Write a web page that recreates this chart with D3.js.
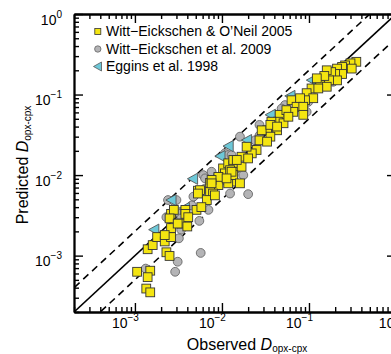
<!DOCTYPE html>
<html>
<head>
<meta charset="utf-8">
<script src="https://cdn.jsdelivr.net/npm/d3@7"></script>
<style>
  body { margin: 0; background: #fff; }
  svg { display: block; font-family: "Liberation Sans", Arial, Helvetica, sans-serif; }
</style>
</head>
<body>
<svg id="chart" width="391" height="354"></svg>
<script>
// series: [observed, predicted]
const wittOneil2005 = [
  [0.00106, 0.00063], [0.0015, 0.00065], [0.0014, 0.00054], [0.00135, 0.00039], [0.0015, 0.00035],
  [0.0014, 0.0012], [0.0016, 0.00135], [0.0018, 0.0017], [0.0022, 0.0015], [0.0026, 0.0017],
  [0.0023, 0.0011], [0.0025, 0.00099], [0.0026, 0.0033], [0.0028, 0.0037], [0.0034, 0.0025],
  [0.0025, 0.0029], [0.0040, 0.0023], [0.0051, 0.0037], [0.0053, 0.0064], [0.0038, 0.0037],
  [0.0103, 0.0121], [0.0118, 0.014], [0.0135, 0.0133], [0.0135, 0.011], [0.0108, 0.0105],
  [0.0135, 0.0083], [0.0118, 0.0079], [0.0091, 0.0091], [0.0073, 0.0080], [0.0091, 0.0075],
  [0.0073, 0.0062], [0.0056, 0.0065], [0.0053, 0.0059], [0.0079, 0.0059], [0.0067, 0.0049],
  [0.0038, 0.0033], [0.0041, 0.0030], [0.0026, 0.0022], [0.0031, 0.0025], [0.0022, 0.0018],
  [0.063, 0.085], [0.055, 0.056], [0.046, 0.056], [0.044, 0.046], [0.051, 0.044],
  [0.037, 0.046], [0.033, 0.036], [0.043, 0.036], [0.036, 0.030], [0.027, 0.027],
  [0.033, 0.026], [0.025, 0.0205], [0.022, 0.0186], [0.0192, 0.0225], [0.0168, 0.0169],
  [0.0135, 0.0154], [0.0168, 0.0127], [0.0124, 0.0115], [0.0135, 0.010], [0.0091, 0.0095],
  [0.0076, 0.0087], [0.0148, 0.0154], [0.020, 0.0161], [0.0286, 0.036],
  [0.0076, 0.0079], [0.0083, 0.0056], [0.0058, 0.0040], [0.0161, 0.0079], [0.0129, 0.011], [0.0113, 0.0091],
  [0.35, 0.255], [0.30, 0.244], [0.26, 0.23], [0.31, 0.21], [0.24, 0.22],
  [0.21, 0.21], [0.24, 0.18], [0.20, 0.18], [0.18, 0.19], [0.16, 0.20],
  [0.21, 0.15], [0.17, 0.15], [0.15, 0.17], [0.134, 0.131], [0.16, 0.125],
  [0.123, 0.159], [0.107, 0.119], [0.128, 0.119], [0.094, 0.104], [0.112, 0.090],
  [0.090, 0.085], [0.079, 0.090], [0.072, 0.0705], [0.086, 0.0705], [0.066, 0.061],
  [0.055, 0.064], [0.058, 0.053], [0.036, 0.042], [0.043, 0.040], [0.086, 0.056]
];

const wittEtAl2009 = [
  [0.00133, 0.00069], [0.0031, 0.00084], [0.0029, 0.00063], [0.0034, 0.0021], [0.0032, 0.00164],
  [0.0028, 0.0039], [0.0037, 0.0034], [0.0024, 0.0049], [0.0047, 0.0054], [0.0045, 0.0042],
  [0.0033, 0.0033], [0.0057, 0.00108], [0.0055, 0.0027], [0.0076, 0.0105], [0.0061, 0.010],
  [0.0030, 0.0049], [0.0034, 0.0029], [0.0025, 0.0017], [0.0124, 0.0059], [0.0099, 0.0087],
  [0.0064, 0.0068], [0.0108, 0.0186], [0.0148, 0.0121], [0.0023, 0.0030], [0.0118, 0.0177],
  [0.053, 0.074], [0.0485, 0.067], [0.027, 0.042], [0.0161, 0.030], [0.0129, 0.0177],
  [0.027, 0.031], [0.024, 0.027], [0.0064, 0.0091], [0.0076, 0.011], [0.0176, 0.010],
  [0.0113, 0.0083], [0.053, 0.0506], [0.020, 0.0058], [0.0070, 0.0037], [0.134, 0.144],
  [0.19, 0.144], [0.094, 0.061], [0.098, 0.081], [0.075, 0.085], [0.063, 0.061]
];

const eggins1998 = [
  [0.00165, 0.0021], [0.0026, 0.0049], [0.0037, 0.0039], [0.0046, 0.0090], [0.0118, 0.0229],
  [0.0095, 0.0172], [0.0605, 0.096], [0.036, 0.056], [0.0192, 0.0272], [0.107, 0.151]
];

const legendLabels = ["Witt\u2212Eickschen & O\u2019Neil 2005", "Witt\u2212Eickschen et al. 2009", "Eggins et al. 1998"];
const decadeTicks = [1e-3, 1e-2, 1e-1, 1];
const decadeExponents = ["\u22123", "\u22122", "\u22121", "0"];
const envelopeFactor = 2;

const svg = d3.select("#chart");
const plot = { left: 74, right: 396, top: 14, bottom: 312 };
const domain = [Math.pow(10, -3.7), 1];

const x = d3.scaleLog().domain(domain).range([plot.left, plot.right]);
const y = d3.scaleLog().domain(domain).range([plot.bottom, plot.top]);

const squareFill = "#f4e511";
const circleFill = "#b4b4b6";
const triFill = "#6dc8d8";

svg.append("defs").append("clipPath").attr("id", "clip")
  .append("rect")
  .attr("x", plot.left).attr("y", plot.top)
  .attr("width", plot.right - plot.left).attr("height", plot.bottom - plot.top);

// reference lines (1:1 and factor-2 envelope)
const lines = svg.append("g").attr("clip-path", "url(#clip)");
const lineEnds = [domain[0] / 4, domain[1] * 4];
[[1, null], [envelopeFactor, "7,5"], [1 / envelopeFactor, "7,5"]].forEach(([f, dash]) => {
  lines.append("line")
    .attr("x1", x(lineEnds[0])).attr("y1", y(lineEnds[0] * f))
    .attr("x2", x(lineEnds[1])).attr("y2", y(lineEnds[1] * f))
    .attr("stroke", "#000")
    .attr("stroke-width", 1.6)
    .attr("stroke-dasharray", dash);
});

// markers
const marks = svg.append("g").attr("clip-path", "url(#clip)");

marks.selectAll(".c").data(wittEtAl2009).enter()
  .append("circle")
  .attr("cx", d => x(d[0])).attr("cy", d => y(d[1]))
  .attr("r", 4.4)
  .attr("fill", circleFill).attr("stroke", "#666").attr("stroke-width", 0.9);

marks.selectAll(".t").data(eggins1998).enter()
  .append("path")
  .attr("transform", d => `translate(${x(d[0])},${y(d[1])})`)
  .attr("d", "M-5.2,0L5,-5.6L5,5.6Z")
  .attr("fill", triFill).attr("stroke", "#555").attr("stroke-width", 0.9);

marks.selectAll(".s").data(wittOneil2005).enter()
  .append("rect")
  .attr("x", d => x(d[0]) - 4.4).attr("y", d => y(d[1]) - 4.4)
  .attr("width", 8.8).attr("height", 8.8)
  .attr("fill", squareFill).attr("stroke", "#333").attr("stroke-width", 0.9);

// axes: minor and major ticks, drawn inward on all four sides
const allTicks = x.ticks();
const minorTicks = allTicks.filter(v => !decadeTicks.some(t => Math.abs(t - v) < t * 1e-6));

function addAxis(axisFn, scale, transform, values, size) {
  svg.append("g")
    .attr("transform", transform)
    .call(axisFn(scale).tickValues(values).tickSizeInner(size).tickSizeOuter(0).tickFormat(""))
    .call(g => g.selectAll("line").attr("stroke", "#000").attr("stroke-width", 1.4))
    .call(g => g.select(".domain").attr("stroke", "#000").attr("stroke-width", 1.8));
}

addAxis(d3.axisBottom, x, `translate(0,${plot.bottom})`, minorTicks, -5);
addAxis(d3.axisBottom, x, `translate(0,${plot.bottom})`, decadeTicks, -9);
addAxis(d3.axisTop, x, `translate(0,${plot.top})`, minorTicks, -5);
addAxis(d3.axisTop, x, `translate(0,${plot.top})`, decadeTicks, -9);
addAxis(d3.axisLeft, y, `translate(${plot.left},0)`, minorTicks, -5);
addAxis(d3.axisLeft, y, `translate(${plot.left},0)`, decadeTicks, -9);
addAxis(d3.axisRight, y, `translate(${plot.right},0)`, minorTicks, -5);
addAxis(d3.axisRight, y, `translate(${plot.right},0)`, decadeTicks, -9);

// tick labels 10^n
decadeTicks.forEach((v, i) => {
  const tx = svg.append("text")
    .attr("x", x(v) + 4).attr("y", 327.5)
    .attr("text-anchor", "end")
    .attr("font-size", 14);
  tx.append("tspan").text("10");
  tx.append("tspan").attr("dy", -7).attr("font-size", 10).text(decadeExponents[i]);

  const ty = svg.append("text")
    .attr("x", 62).attr("y", y(v) + 10.5)
    .attr("text-anchor", "end")
    .attr("font-size", 14);
  ty.append("tspan").text("10");
  ty.append("tspan").attr("dy", -7).attr("font-size", 10).text(decadeExponents[i]);
});

// axis titles
function axisTitle(sel, word) {
  sel.append("tspan").text(word + " ");
  sel.append("tspan").attr("font-style", "italic").text("D");
  sel.append("tspan").attr("font-size", 10).attr("dy", 2.5).text("opx-cpx");
}

axisTitle(svg.append("text")
  .attr("x", 247).attr("y", 349.5)
  .attr("text-anchor", "middle")
  .attr("font-size", 16), "Observed");

axisTitle(svg.append("text")
  .attr("transform", "translate(28,165) rotate(-90)")
  .attr("text-anchor", "middle")
  .attr("font-size", 16), "Predicted");

// legend
const legend = svg.append("g");
const rowY = [31.5, 49, 66.5];
legend.append("rect").attr("x", 94.8).attr("y", rowY[0] - 3).attr("width", 6).attr("height", 6)
  .attr("fill", squareFill).attr("stroke", "#333").attr("stroke-width", 0.8);
legend.append("circle").attr("cx", 97.8).attr("cy", rowY[1]).attr("r", 3.2)
  .attr("fill", circleFill).attr("stroke", "#666").attr("stroke-width", 0.8);
legend.append("path").attr("transform", `translate(97.5,${rowY[2]})`)
  .attr("d", "M-4,0L4,-4.5L4,4.5Z")
  .attr("fill", triFill).attr("stroke", "#555").attr("stroke-width", 0.8);

legendLabels.forEach((t, i) => {
  legend.append("text")
    .attr("x", 106).attr("y", rowY[i] + 4.5)
    .attr("font-size", 14)
    .text(t);
});
</script>
</body>
</html>
